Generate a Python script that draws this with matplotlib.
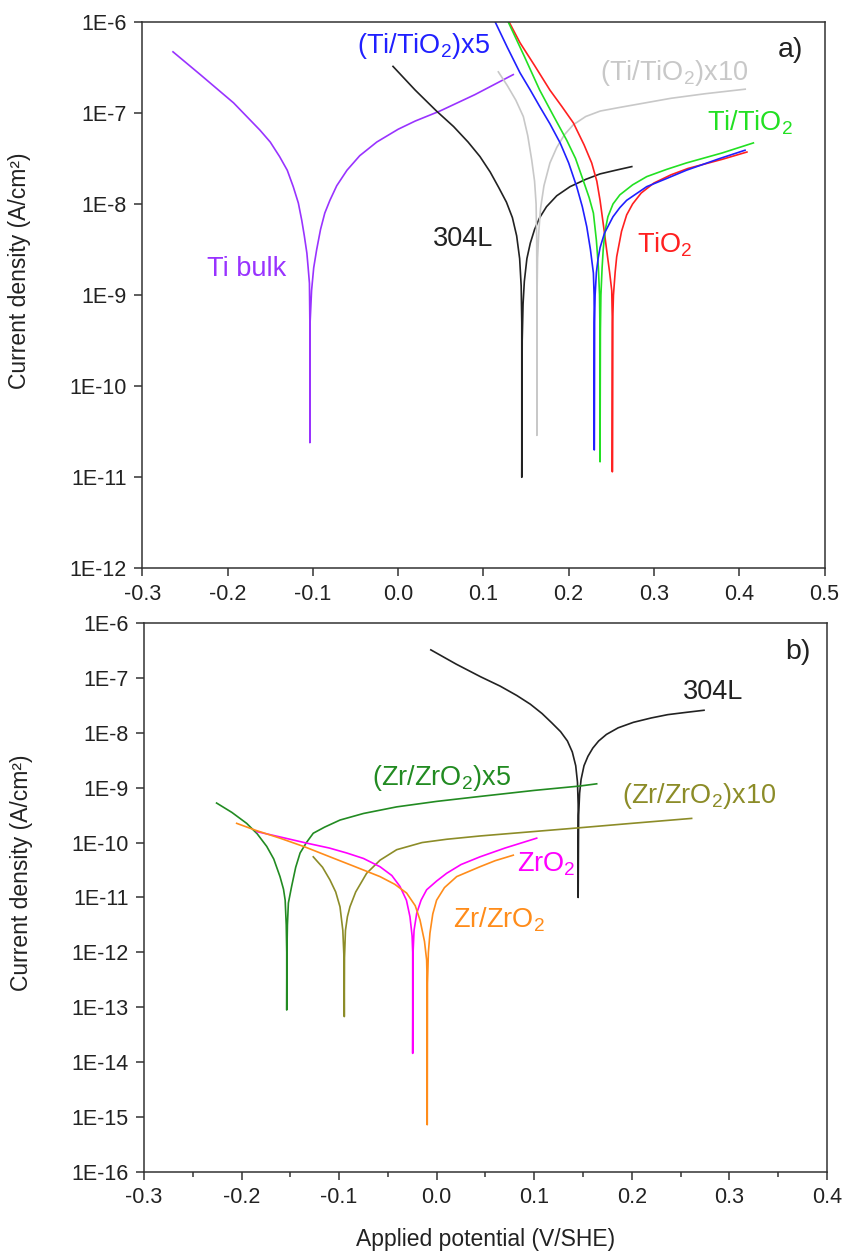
import matplotlib
matplotlib.use("Agg")
import matplotlib.pyplot as plt
import numpy as np
from matplotlib.ticker import FixedLocator, FixedFormatter, NullLocator, MultipleLocator

plt.rcParams['font.family'] = ['Liberation Sans', 'DejaVu Sans']
plt.rcParams['mathtext.fontset'] = 'custom'
plt.rcParams['mathtext.rm'] = 'Liberation Sans'
plt.rcParams['mathtext.default'] = 'regular'

# potentials in V/SHE, currents as log10(A/cm2)

# ---- panel a) : Ti based coatings ----
E_ti_bulk = [-0.264, -0.232, -0.193, -0.162, -0.150, -0.139, -0.130, -0.123, -0.117, -0.113, -0.110,
             -0.107, -0.1055, -0.104, -0.1035, -0.1035,
             -0.1032, -0.1015, -0.099, -0.0955, -0.091, -0.086, -0.080, -0.072, -0.060, -0.045,
             -0.025, 0.000, 0.020, 0.049, 0.090, 0.135]
logi_ti_bulk = [-6.33, -6.58, -6.89, -7.19, -7.32, -7.48, -7.63, -7.81, -7.99, -8.18, -8.35,
                -8.54, -8.70, -8.87, -9.3, -10.62,
                -9.3, -8.95, -8.70, -8.50, -8.28, -8.10, -7.96, -7.80, -7.63, -7.47,
                -7.32, -7.18, -7.09, -6.98, -6.80, -6.58]

E_304L = [-0.006, 0.020, 0.045, 0.065, 0.082, 0.096, 0.108, 0.118, 0.127, 0.134, 0.139, 0.1425,
          0.1443, 0.145, 0.145,
          0.1455, 0.1465, 0.148, 0.151, 0.155, 0.160, 0.166, 0.174, 0.186, 0.2016, 0.220, 0.2368,
          0.255, 0.274]
logi_304L = [-6.49, -6.75, -6.98, -7.15, -7.32, -7.48, -7.65, -7.82, -7.98, -8.15, -8.35, -8.6,
             -8.9, -9.3, -11.0,
             -9.5, -9.1, -8.85, -8.6, -8.43, -8.28, -8.15, -8.03, -7.91, -7.81, -7.73, -7.67,
             -7.63, -7.59]

E_ti_x10 = [0.1175, 0.128, 0.138, 0.1468, 0.152, 0.1567, 0.160, 0.1618, 0.1625, 0.1627, 0.1627,
            0.1629, 0.1635, 0.165, 0.167, 0.171, 0.178, 0.186, 0.195, 0.2055, 0.220, 0.237, 0.260,
            0.284, 0.320, 0.360, 0.407]
logi_ti_x10 = [-6.55, -6.70, -6.86, -7.04, -7.25, -7.52, -7.75, -8.0, -8.4, -9.0, -10.54,
               -9.0, -8.6, -8.3, -8.05, -7.8, -7.55, -7.38, -7.24, -7.13, -7.04, -6.98, -6.94,
               -6.90, -6.84, -6.79, -6.74]

E_ti_x5 = [0.1137, 0.128, 0.1429, 0.155, 0.166, 0.178, 0.190, 0.200, 0.2094, 0.216, 0.2212, 0.2255,
           0.229, 0.2298, 0.2300, 0.2300,
           0.2303, 0.231, 0.2325, 0.2345, 0.2368, 0.242, 0.252, 0.260, 0.268, 0.2915, 0.315, 0.338,
           0.3775, 0.4068]
logi_ti_x5 = [-6.0, -6.28, -6.56, -6.75, -6.93, -7.12, -7.33, -7.55, -7.81, -8.03, -8.25, -8.5,
              -8.76, -9.0, -9.3, -10.70,
              -9.3, -9.0, -8.75, -8.6, -8.48, -8.32, -8.14, -8.04, -7.96, -7.81, -7.72, -7.63,
              -7.50, -7.41]

E_ti_tio2 = [0.129, 0.148, 0.166, 0.182, 0.1977, 0.208, 0.217, 0.224, 0.229, 0.2325, 0.2348, 0.2362,
             0.2367, 0.2368,
             0.2372, 0.2378, 0.2392, 0.2405, 0.2426, 0.246, 0.252, 0.260, 0.275, 0.2915, 0.315,
             0.338, 0.380, 0.4166]
logi_ti_tio2 = [-6.0, -6.38, -6.75, -7.03, -7.30, -7.50, -7.74, -7.93, -8.10, -8.4, -8.69, -9.0,
                -9.4, -10.83,
                -9.4, -9.0, -8.7, -8.5, -8.3, -8.14, -8.0, -7.9, -7.79, -7.70, -7.62,
                -7.55, -7.44, -7.33]

E_tio2 = [0.130, 0.1429, 0.160, 0.178, 0.192, 0.2055, 0.218, 0.227, 0.233, 0.2368, 0.241, 0.2446,
          0.248, 0.2505, 0.2512, 0.2512,
          0.2516, 0.2525, 0.2545, 0.2563, 0.262, 0.268, 0.275, 0.285, 0.300, 0.320, 0.340, 0.380,
          0.409]
logi_tio2 = [-6.0, -6.23, -6.48, -6.75, -6.93, -7.11, -7.35, -7.55, -7.75, -7.96, -8.25, -8.51,
             -8.75, -8.95, -9.3, -10.94,
             -9.3, -9.0, -8.75, -8.58, -8.3, -8.12, -8.0, -7.88, -7.77, -7.68, -7.61, -7.51,
             -7.43]

# ---- panel b) : Zr based coatings ----
E_zr_x5 = [-0.2256, -0.210, -0.1948, -0.184, -0.1742, -0.167, -0.1606, -0.157, -0.1553, -0.1542,
           -0.1537, -0.1537,
           -0.1535, -0.1530, -0.152, -0.1487, -0.1445, -0.140, -0.1335, -0.1265, -0.115, -0.0991,
           -0.075, -0.041, 0.000, 0.0444, 0.100, 0.1469, 0.164]
logi_zr_x5 = [-9.28, -9.45, -9.65, -9.84, -10.07, -10.3, -10.62, -10.85, -11.05, -11.5,
              -12.0, -13.05,
              -12.0, -11.5, -11.1, -10.80, -10.45, -10.19, -10.0, -9.83, -9.72, -9.59,
              -9.47, -9.35, -9.25, -9.16, -9.05, -8.97, -8.93]

E_zr_x10 = [-0.1265, -0.117, -0.1094, -0.1035, -0.0991, -0.0962, -0.0950, -0.0947,
            -0.0945, -0.0935, -0.0915, -0.0889, -0.083, -0.0718, -0.058, -0.041, -0.015, 0.0102,
            0.0444, 0.0785, 0.1469, 0.200, 0.2613]
logi_zr_x10 = [-10.26, -10.45, -10.68, -10.9, -11.17, -11.6, -12.1, -13.17,
               -12.1, -11.6, -11.35, -11.17, -10.9, -10.56, -10.32, -10.13, -10.0, -9.94,
               -9.88, -9.83, -9.73, -9.65, -9.56]

E_zro2 = [-0.1845, -0.160, -0.1333, -0.110, -0.0922, -0.075, -0.0581, -0.046, -0.0376, -0.031,
          -0.0274, -0.0252, -0.0246, -0.0246,
          -0.0242, -0.0232, -0.0205, -0.016, -0.0103, 0.000, 0.0102, 0.025, 0.0444, 0.070, 0.1025]
logi_zro2 = [-9.80, -9.90, -10.01, -10.10, -10.19, -10.29, -10.44, -10.60, -10.80, -11.05,
             -11.35, -11.7, -12.0, -13.84,
             -12.0, -11.6, -11.29, -11.05, -10.86, -10.70, -10.56, -10.40, -10.26, -10.10, -9.92]

E_zr_zro2 = [-0.205, -0.185, -0.1606, -0.135, -0.1094, -0.085, -0.0581, -0.043, -0.0308, -0.022,
             -0.0171, -0.0125, -0.0103, -0.0097, -0.0097,
             -0.0095, -0.0085, -0.0069, -0.004, -0.0001, 0.008, 0.0205, 0.0444, 0.060, 0.0785]
logi_zr_zro2 = [-9.65, -9.78, -9.92, -10.08, -10.26, -10.43, -10.62, -10.76, -10.92, -11.15,
                -11.41, -11.8, -12.14, -12.6, -15.14,
                -12.6, -12.0, -11.65, -11.3, -11.05, -10.82, -10.62, -10.44, -10.33, -10.23]

ytick_a = [1e-12, 1e-11, 1e-10, 1e-9, 1e-8, 1e-7, 1e-6]
ylab_a = ['1E-12', '1E-11', '1E-10', '1E-9', '1E-8', '1E-7', '1E-6']
ytick_b = [1e-16, 1e-15, 1e-14, 1e-13, 1e-12, 1e-11, 1e-10, 1e-9, 1e-8, 1e-7, 1e-6]
ylab_b = ['1E-16', '1E-15', '1E-14', '1E-13', '1E-12', '1E-11', '1E-10', '1E-9', '1E-8', '1E-7', '1E-6']

axcol = '#333333'
lw = 1.2


def curve(ax, E, logi, color):
    ax.plot(E, np.power(10.0, logi), color=color, lw=lw, solid_joinstyle='round')


def style(ax, yt, yl):
    ax.set_yscale('log')
    ax.yaxis.set_major_locator(FixedLocator(yt))
    ax.yaxis.set_major_formatter(FixedFormatter(yl))
    ax.yaxis.set_minor_locator(NullLocator())
    ax.tick_params(which='both', direction='out', top=False, right=False,
                   labelsize=15.5, width=1.1, colors=axcol, labelcolor='#222222', pad=5)
    ax.tick_params(which='major', length=6)
    ax.tick_params(which='minor', length=3.5)
    for s in ax.spines.values():
        s.set_linewidth(1.1)
        s.set_color(axcol)
    ax.set_ylabel('Current density (A/cm²)', fontsize=16.5, color='#222222')
    ax.yaxis.set_label_coords(-0.163, 0.545)


fig = plt.figure(figsize=(8.44, 12.58), dpi=100)
ax1 = fig.add_axes([0.1686, 0.5482, 0.8083, 0.4345])
ax2 = fig.add_axes([0.1706, 0.0684, 0.8092, 0.4364])

# panel a
curve(ax1, E_ti_bulk, logi_ti_bulk, '#9933ff')
curve(ax1, E_304L, logi_304L, '#222222')
curve(ax1, E_ti_x10, logi_ti_x10, '#c8c8c8')
curve(ax1, E_tio2, logi_tio2, '#ff2020')
curve(ax1, E_ti_tio2, logi_ti_tio2, '#22e022')
curve(ax1, E_ti_x5, logi_ti_x5, '#2020ff')
ax1.set_xlim(-0.3, 0.5)
ax1.set_ylim(1e-12, 1e-6)
ax1.xaxis.set_major_locator(MultipleLocator(0.1))
ax1.xaxis.set_major_formatter(plt.FuncFormatter(lambda v, p: '%.1f' % v))
style(ax1, ytick_a, ylab_a)

fs = 19.5
ax1.text(-0.2245, 10**-8.71, 'Ti bulk', color='#9933ff', fontsize=fs, va='center')
ax1.text(0.0413, 10**-8.38, '304L', color='#222222', fontsize=fs, va='center')
ax1.text(-0.0486, 10**-6.27, '(Ti/TiO$_2$)x5', color='#2020ff', fontsize=fs, va='center')
ax1.text(0.2368, 10**-6.56, '(Ti/TiO$_2$)x10', color='#c8c8c8', fontsize=fs, va='center')
ax1.text(0.3619, 10**-7.11, 'Ti/TiO$_2$', color='#22e022', fontsize=fs, va='center')
ax1.text(0.2798, 10**-8.45, 'TiO$_2$', color='#ff2020', fontsize=fs, va='center')
ax1.text(0.4455, 10**-6.31, 'a)', color='#222222', fontsize=20.5, va='center')

# panel b
curve(ax2, E_304L, logi_304L, '#222222')
curve(ax2, E_zr_x5, logi_zr_x5, '#228b22')
curve(ax2, E_zr_x10, logi_zr_x10, '#8c8c28')
curve(ax2, E_zro2, logi_zro2, '#ff00ff')
curve(ax2, E_zr_zro2, logi_zr_zro2, '#ff8c1a')
ax2.set_xlim(-0.3, 0.4)
ax2.set_ylim(1e-16, 1e-6)
ax2.xaxis.set_major_locator(MultipleLocator(0.1))
ax2.xaxis.set_minor_locator(MultipleLocator(0.05))
ax2.xaxis.set_major_formatter(plt.FuncFormatter(lambda v, p: '%.1f' % v))
style(ax2, ytick_b, ylab_b)
ax2.set_xlabel('Applied potential (V/SHE)', fontsize=16.5, color='#222222', labelpad=14)

ax2.text(0.2527, 10**-7.25, '304L', color='#222222', fontsize=fs, va='center')
ax2.text(-0.0666, 10**-8.82, '(Zr/ZrO$_2$)x5', color='#228b22', fontsize=fs, va='center')
ax2.text(0.1896, 10**-9.15, '(Zr/ZrO$_2$)x10', color='#8c8c28', fontsize=fs, va='center')
ax2.text(0.082, 10**-10.40, 'ZrO$_2$', color='#ff00ff', fontsize=fs, va='center')
ax2.text(0.017, 10**-11.40, 'Zr/ZrO$_2$', color='#ff8c1a', fontsize=fs, va='center')
ax2.text(0.357, 10**-6.52, 'b)', color='#222222', fontsize=20.5, va='center')

fig.savefig('out.png', dpi=100)
